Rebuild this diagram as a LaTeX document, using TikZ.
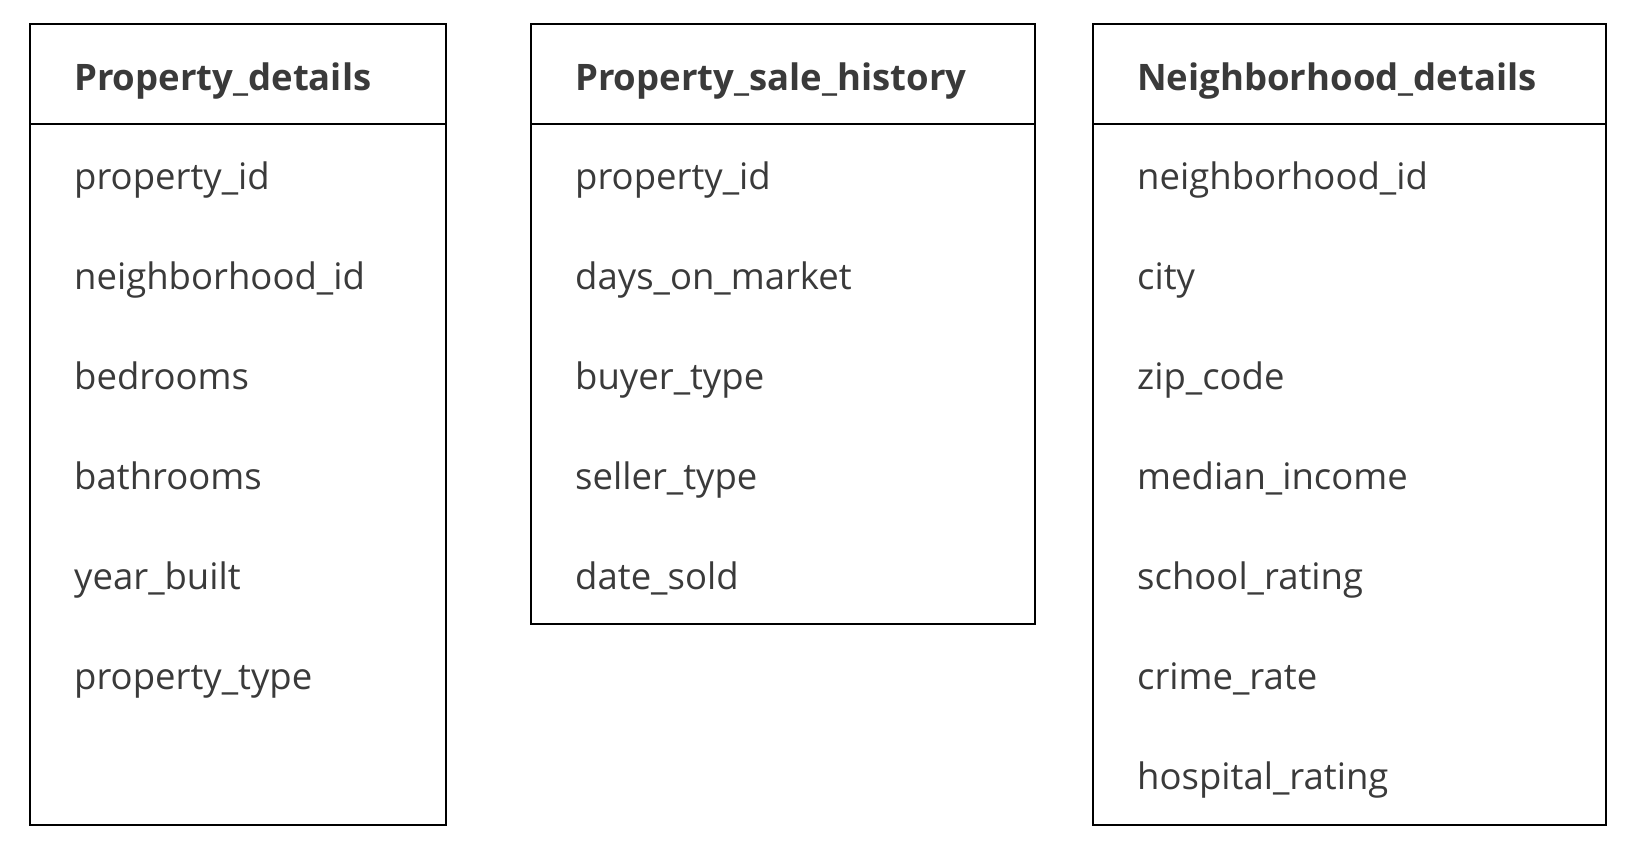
\documentclass[tikz,border=0pt]{standalone}
\usepackage{fontspec}
\setmainfont{Open Sans}
\definecolor{txt}{HTML}{3A3A3A}
\begin{document}
\begin{tikzpicture}[x=1pt,y=-1pt,
  box/.style={draw=black,line width=1.5pt,inner sep=0pt,outer sep=0pt,anchor=north west},
  hdr/.style={anchor=base west,inner sep=0pt,text=txt,font=\fontsize{36.5}{44}\selectfont\bfseries},
  fld/.style={anchor=base west,inner sep=0pt,text=txt,font=\fontsize{36.5}{44}\selectfont},
  sep/.style={draw=black,line width=1.5pt}]
\useasboundingbox[fill=white] (0,0) rectangle (1629,847);
% boxes
\node[box,minimum width=416pt,minimum height=801pt] (pd) at (30,24) {};
\node[box,minimum width=504pt,minimum height=600pt] (ps) at (531,24) {};
\node[box,minimum width=513pt,minimum height=801pt] (nd) at (1093,24) {};
% header separators
\coordinate (pdl) at (30,124); \coordinate (pdr) at (446,124);
\coordinate (psl) at (531,124); \coordinate (psr) at (1035,124);
\coordinate (ndl) at (1093,124); \coordinate (ndr) at (1606,124);
\draw[sep] (pdl) -- (pdr);
\draw[sep] (psl) -- (psr);
\draw[sep] (ndl) -- (ndr);
% Property_details
\node[hdr] (pdh) at (74,90) {Property\_details};
\node[fld] (pd1) at (74,189) {property\_id};
\node[fld] (pd2) at (74,289) {neighborhood\_id};
\node[fld] (pd3) at (74,389) {bedrooms};
\node[fld] (pd4) at (74,489) {bathrooms};
\node[fld] (pd5) at (74,589) {year\_built};
\node[fld] (pd6) at (74,689) {property\_type};
% Property_sale_history
\node[hdr] (psh) at (575,90) {Property\_sale\_history};
\node[fld] (ps1) at (575,189) {property\_id};
\node[fld] (ps2) at (575,289) {days\_on\_market};
\node[fld] (ps3) at (575,389) {buyer\_type};
\node[fld] (ps4) at (575,489) {seller\_type};
\node[fld] (ps5) at (575,589) {date\_sold};
% Neighborhood_details
\node[hdr] (ndh) at (1137,90) {Neighborhood\_details};
\node[fld] (nd1) at (1137,189) {neighborhood\_id};
\node[fld] (nd2) at (1137,289) {city};
\node[fld] (nd3) at (1137,389) {zip\_code};
\node[fld] (nd4) at (1137,489) {median\_income};
\node[fld] (nd5) at (1137,589) {school\_rating};
\node[fld] (nd6) at (1137,689) {crime\_rate};
\node[fld] (nd7) at (1137,789) {hospital\_rating};
\end{tikzpicture}
\end{document}
